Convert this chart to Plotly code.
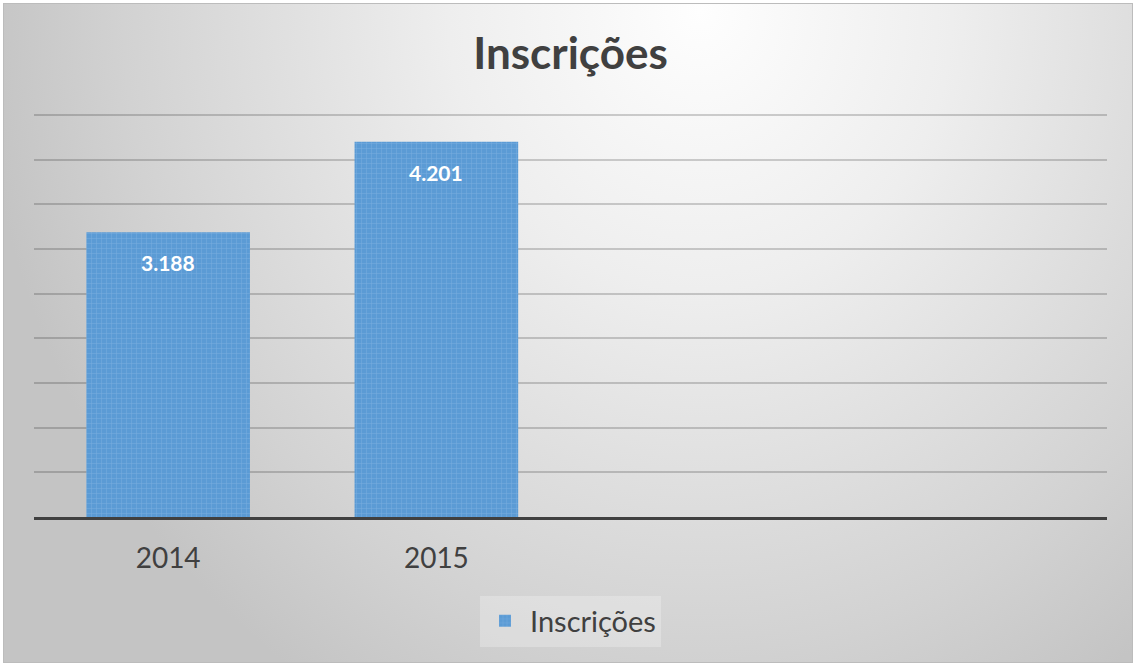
import base64

import plotly.graph_objects as go

# data
years = ["2014", "2015"]
inscricoes = [3188, 4201]
series_name = "Inscrições"
chart_title = "Inscrições"

W, H = 1136, 666
ML, MR, MT, MB = 34, 29, 106, 149

# grey radial background + thin frame, drawn as one svg image behind the chart
bg_svg = f"""<svg xmlns="http://www.w3.org/2000/svg" width="{W}" height="{H}" viewBox="0 0 {W} {H}" preserveAspectRatio="none">
<defs><radialGradient id="g" gradientUnits="userSpaceOnUse" cx="700" cy="10" r="800"
 gradientTransform="translate(700 10) scale(0.9 1) translate(-700 -10)">
<stop offset="0" stop-color="#fefefe"/><stop offset="0.35" stop-color="#eeeeee"/>
<stop offset="0.8" stop-color="#d2d2d2"/><stop offset="1" stop-color="#c4c4c4"/></radialGradient></defs>
<rect x="0" y="0" width="{W}" height="{H}" fill="#ffffff"/>
<rect x="3.5" y="3.5" width="{W - 7}" height="{H - 7}" fill="url(#g)" stroke="#bcbcbc" stroke-width="1"/>
</svg>"""
bg_uri = "data:image/svg+xml;base64," + base64.b64encode(bg_svg.encode()).decode()

pw, ph = W - ML - MR, H - MT - MB

fig = go.Figure()
fig.add_trace(go.Bar(
    x=years, y=inscricoes, name=series_name, width=0.61,
    marker=dict(color="#5b9bd5", line=dict(width=0),
                pattern=dict(shape="+", fgcolor="#93bfe8", size=5, solidity=0.2)),
    hoverinfo="x+y",
))

# value labels inside the top of each bar (category index used as x position)
for i, v in enumerate(inscricoes):
    fig.add_annotation(
        x=i, y=v, text=f"<b>{v:,}</b>".replace(",", "."), showarrow=False,
        yanchor="top", yshift=-16, font=dict(family="Lato", size=21, color="#ffffff"),
    )

fig.update_layout(
    width=W, height=H,
    margin=dict(l=ML, r=MR, t=MT, b=MB, pad=0),
    paper_bgcolor="rgba(0,0,0,0)", plot_bgcolor="rgba(0,0,0,0)",
    separators=",.",
    font=dict(family="Lato", color="#404040"),
    title=dict(text=f"<b>{chart_title}</b>", x=0.5 + (ML - MR) / 2 / W, xanchor="center",
               y=1 - 54 / H, yanchor="middle", font=dict(size=44, color="#404040")),
    showlegend=True,
    legend=dict(orientation="h", x=0.5, xanchor="center", y=-104 / ph, yanchor="middle",
                bgcolor="rgba(255,255,255,0.25)", font=dict(size=29, color="#404040"),
                itemwidth=40),
    bargap=0.39,
    images=[dict(source=bg_uri, xref="paper", yref="paper", x=-ML / pw, y=1 + MT / ph,
                 sizex=W / pw, sizey=H / ph, sizing="stretch", layer="below",
                 xanchor="left", yanchor="top")],
)

fig.update_xaxes(type="category", range=[-0.5, 3.5], showgrid=False, showline=True,
                 linecolor="#404040", linewidth=3, ticks="", ticklabelstandoff=14,
                 tickfont=dict(size=28, color="#404040"), fixedrange=True)
fig.update_yaxes(range=[0, 4600], tickvals=[500 * k for k in range(1, 10)], showticklabels=False,
                 showgrid=True, gridcolor="rgba(0,0,0,0.18)", gridwidth=2, zeroline=False,
                 fixedrange=True)

# drop the browser's default page margin so the chart sits at 0,0
fig.write_html("out.html", config={"displayModeBar": False},
               post_script="document.body.style.margin='0';")
